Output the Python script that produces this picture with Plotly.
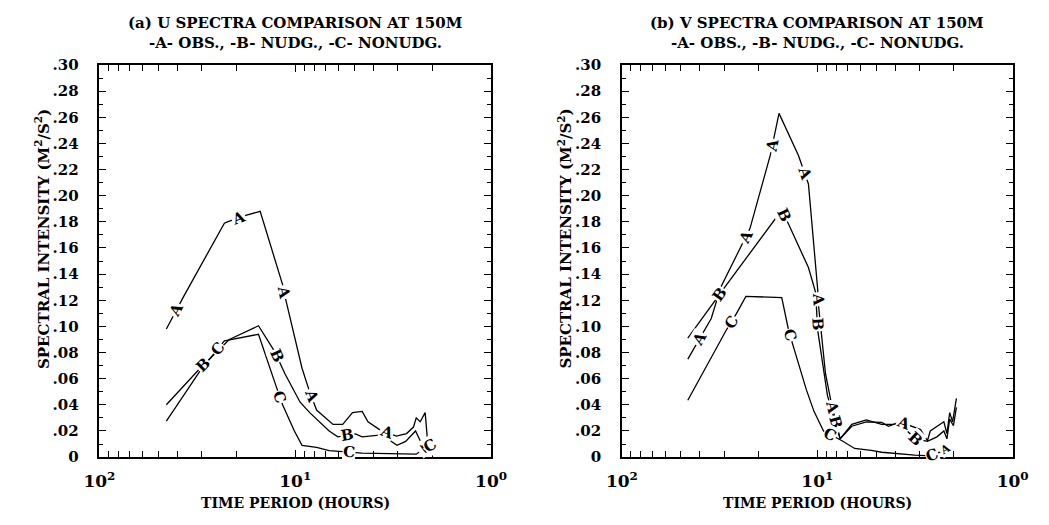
import math
import numpy as np
import plotly.graph_objects as go

# ---------------- data (periods in hours, intensity in m^2/s^2) ----------------
# Panel (a) U spectra
a_A_period = [45.5, 37.1, 23.0, 22.2, 17.9, 15.1, 11.6, 11.2, 9.23, 8.53, 7.78, 6.41, 5.72, 5.10,
              4.55, 4.25, 3.71, 3.05, 2.70, 2.49, 2.41, 2.30, 2.17, 2.10]
a_A_value = [0.098, 0.123, 0.179, 0.180, 0.185, 0.188, 0.132, 0.121, 0.068, 0.052, 0.036, 0.025, 0.025, 0.034,
             0.035, 0.027, 0.021, 0.016, 0.018, 0.023, 0.030, 0.027, 0.034, 0.009]
a_B_period = [45.5, 30.6, 21.7, 15.4, 12.7, 11.3, 9.44, 8.43, 6.71, 6.06, 4.93, 4.55, 3.62, 3.02,
              2.73, 2.43, 2.30, 2.22, 2.10]
a_B_value = [0.040, 0.068, 0.090, 0.1005, 0.0805, 0.064, 0.042, 0.034, 0.020, 0.0155, 0.0177, 0.0155, 0.017, 0.009,
             0.012, 0.020, 0.0125, 0.012, 0.007]
a_C_period = [45.5, 30.6, 23.0, 15.4, 12.7, 11.6, 10.1, 9.23, 7.78, 6.71, 4.55, 2.41, 2.27, 2.05]
a_C_value = [0.0275, 0.066, 0.089, 0.094, 0.057, 0.040, 0.020, 0.009, 0.0074, 0.005, 0.003, 0.0022, 0.005, 0.009]

# Panel (b) V spectra
b_A_period = [46.0, 34.9, 31.2, 22.1, 17.4, 15.7, 12.5, 11.1, 9.95, 9.84, 9.08, 8.57, 7.64, 6.66,
              5.61, 4.68, 4.32, 3.77, 2.96, 2.73, 2.64, 2.25, 2.17, 2.10, 2.03, 1.94]
b_A_value = [0.075, 0.106, 0.130, 0.175, 0.231, 0.263, 0.231, 0.209, 0.128, 0.115, 0.064, 0.045, 0.014, 0.0236,
             0.027, 0.0265, 0.0236, 0.027, 0.021, 0.0125, 0.020, 0.027, 0.018, 0.034, 0.027, 0.045]
b_B_period = [46.0, 29.1, 15.2, 14.0, 11.1, 10.2, 9.95, 8.87, 7.64, 6.66, 5.61, 4.68, 3.77, 3.14,
              2.73, 2.44, 2.25, 2.17, 2.10, 2.01, 1.94]
b_B_value = [0.091, 0.132, 0.189, 0.178, 0.145, 0.126, 0.097, 0.047, 0.014, 0.025, 0.0285, 0.025, 0.025, 0.014,
             0.012, 0.0155, 0.020, 0.014, 0.029, 0.024, 0.038]
b_C_period = [46.0, 29.4, 25.9, 23.2, 15.2, 14.0, 13.1, 11.4, 10.4, 9.29, 7.47, 6.44, 5.30, 4.68,
              3.17, 2.64, 2.25]
b_C_value = [0.0435, 0.0965, 0.110, 0.123, 0.122, 0.0965, 0.082, 0.052, 0.035, 0.020, 0.0125, 0.0066, 0.0052, 0.0037,
             0.0015, 0.001, 0.005]

# curve letters placed along the lines (period where the letter sits)
a_A_labels = [40.5, 19.4, 11.4, 8.3, 3.43]
a_B_labels = [29.5, 12.4, 5.4, 2.12]
a_C_labels = [24.9, 12.0, 5.3, 2.06]
b_A_labels = [40.1, 23.2, 17.0, 11.6, 9.89, 8.37, 3.64]
b_B_labels = [31.5, 14.8, 9.99, 8.09, 3.14]
b_C_labels = [27.5, 13.8, 8.57, 2.58]

titles = ["(a) U SPECTRA COMPARISON AT 150M", "(b) V SPECTRA COMPARISON AT 150M"]
subtitle = "-A- OBS., -B- NUDG., -C- NONUDG."
y_ticks = [0.0, 0.02, 0.04, 0.06, 0.08, 0.10, 0.12, 0.14, 0.16, 0.18, 0.20, 0.22, 0.24, 0.26, 0.28, 0.30]
y_ticktext = ["0", ".02", ".04", ".06", ".08", ".10", ".12", ".14", ".16", ".18", ".20", ".22",
              ".24", ".26", ".28", ".30"]
x_ticks = [100, 10, 1]
x_ticktext = ["10<sup>2</sup>", "10<sup>1</sup>", "10<sup>0</sup>"]
x_minor = [90, 80, 70, 60, 50, 40, 30, 20, 9, 8, 7, 6, 5, 4, 3, 2]

# ---------------- figure ----------------
W, H = 1049, 525
FONT = "DejaVu Serif"
PX_DECADE = 202.0
PX_UNIT = 1355.0

fig = go.Figure()
panels = [
    ("x", "y", [(a_A_period, a_A_value, a_A_labels, "A"),
                (a_B_period, a_B_value, a_B_labels, "B"),
                (a_C_period, a_C_value, a_C_labels, "C")]),
    ("x2", "y2", [(b_A_period, b_A_value, b_A_labels, "A"),
                  (b_B_period, b_B_value, b_B_labels, "B"),
                  (b_C_period, b_C_value, b_C_labels, "C")]),
]

annotations = []
for xa, ya, series in panels:
    for per, val, labs, letter in series:
        fig.add_trace(go.Scatter(x=per, y=val, mode="lines", xaxis=xa, yaxis=ya,
                                 line=dict(color="black", width=1.3), showlegend=False,
                                 hoverinfo="skip"))
        lp = np.log10(per)
        for p in labs:
            lx = math.log10(p)
            v = float(np.interp(lx, lp[::-1], np.array(val)[::-1]))
            i = 0
            for k in range(len(per) - 1):
                if per[k] >= p >= per[k + 1]:
                    i = k
                    break
            dx = (lp[i] - lp[i + 1]) * PX_DECADE
            dy = -(val[i + 1] - val[i]) * PX_UNIT
            ang = math.degrees(math.atan2(dy, dx)) if dx > 0 else 90
            annotations.append(dict(x=lx, y=v, xref=xa, yref=ya, text=letter, showarrow=False,
                                    textangle=ang, bgcolor="white", borderpad=0,
                                    font=dict(family=FONT, size=15, color="black", weight="bold"),
                                    xanchor="center", yanchor="middle"))

# stray small letter near the end of panel (b) curve C
annotations.append(dict(x=math.log10(2.22), y=0.006, xref="x2", yref="y2", text="A", showarrow=False,
                        textangle=-30, bgcolor="white", borderpad=0,
                        font=dict(family=FONT, size=11, color="black", weight="bold")))

dom_a = [86 / W, 490 / W]
dom_b = [625 / W, 1028 / W]
dom_y = [1 - 464 / H, 1 - 58 / H]

def xaxis(domain, anchor):
    return dict(type="log", range=[2, 0], domain=domain, anchor=anchor,
                showline=True, linecolor="black", linewidth=1.5, mirror="ticks",
                ticks="inside", ticklen=7, tickwidth=1.2, tickcolor="black",
                tickmode="array", tickvals=x_ticks, ticktext=x_ticktext,
                minor=dict(ticks="inside", ticklen=6, tickwidth=1.2, tickcolor="black",
                           tickvals=x_minor),
                showgrid=False, zeroline=False, ticklabelstandoff=8,
                tickfont=dict(family=FONT, size=17, color="black", weight="bold"))

def yaxis(anchor):
    return dict(range=[0, 0.30], domain=dom_y, anchor=anchor,
                showline=True, linecolor="black", linewidth=1.5, mirror="ticks",
                ticks="inside", ticklen=7, tickwidth=1.2, tickcolor="black",
                tickmode="array", tickvals=y_ticks, ticktext=y_ticktext,
                minor=dict(ticks="inside", ticklen=4, tickwidth=1.2, tickcolor="black", dtick=0.01),
                showgrid=False, zeroline=False, ticklabelstandoff=16,
                tickfont=dict(family=FONT, size=15, color="black", weight="bold"))

for i, (cx, ylx) in enumerate([((dom_a[0] + dom_a[1]) / 2, 27 / W), ((dom_b[0] + dom_b[1]) / 2, 566 / W)]):
    annotations.append(dict(x=cx, y=1 - 15 / H, xref="paper", yref="paper", text=titles[i],
                            showarrow=False, xanchor="center", yanchor="middle",
                            font=dict(family=FONT, size=15, color="black", weight="bold")))
    annotations.append(dict(x=cx, y=1 - 35 / H, xref="paper", yref="paper", text=subtitle,
                            showarrow=False, xanchor="center", yanchor="middle",
                            font=dict(family=FONT, size=15, color="black", weight="bold")))
    annotations.append(dict(x=cx, y=1 - 512 / H, xref="paper", yref="paper", text="TIME PERIOD (HOURS)",
                            showarrow=False, xanchor="center", yanchor="middle",
                            font=dict(family=FONT, size=14, color="black", weight="bold")))
    annotations.append(dict(x=ylx, y=1 - 238 / H, xref="paper", yref="paper",
                            text="SPECTRAL INTENSITY (M<sup>2</sup>/S<sup>2</sup>)",
                            showarrow=False, xanchor="center", yanchor="middle", textangle=-90,
                            font=dict(family=FONT, size=15, color="black", weight="bold")))

fig.update_layout(
    width=W, height=H,
    margin=dict(l=0, r=0, t=0, b=0),
    paper_bgcolor="white", plot_bgcolor="white",
    xaxis=xaxis(dom_a, "y"), yaxis=yaxis("x"),
    xaxis2=xaxis(dom_b, "y2"), yaxis2=yaxis("x2"),
    annotations=annotations,
    showlegend=False,
)

fig.write_html("out.html")
